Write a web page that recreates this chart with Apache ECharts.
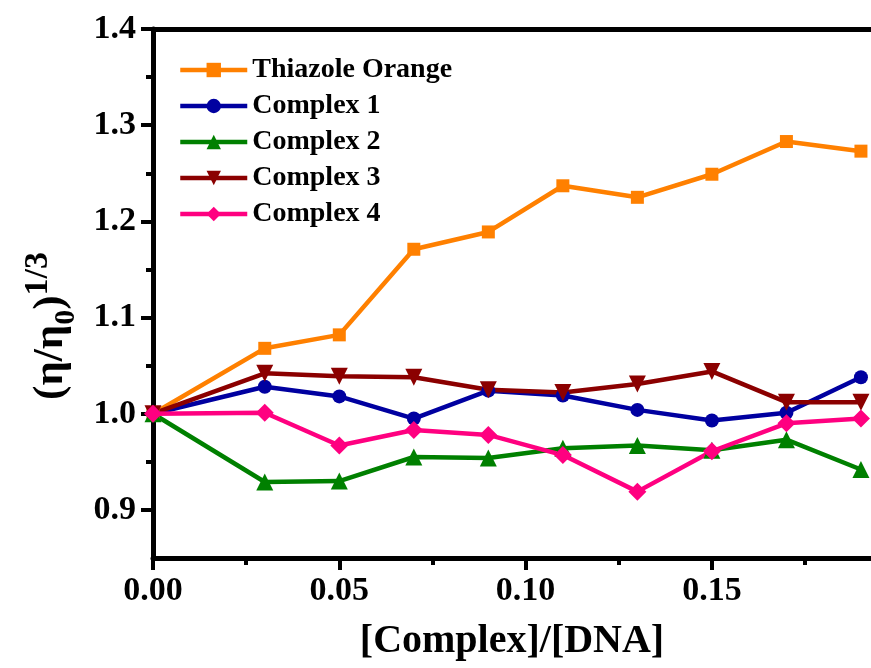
<!DOCTYPE html>
<html>
<head>
<meta charset="utf-8">
<script src="https://cdn.jsdelivr.net/npm/echarts@6/dist/echarts.min.js"></script>
<style>
  html, body { margin: 0; padding: 0; background: #fff; }
  #chart { width: 871px; height: 668px; }
</style>
</head>
<body>
<div id="chart"></div>
<script>
// ratio values
var ratios = [0, 0.03, 0.05, 0.07, 0.09, 0.11, 0.13, 0.15, 0.17, 0.19];

// (eta/eta0)^(1/3) per series
var thiazoleOrange = [1.0, 1.068, 1.082, 1.171, 1.189, 1.237, 1.225, 1.249, 1.283, 1.273];
var complex1 = [1.0, 1.028, 1.018, 0.995, 1.024, 1.019, 1.004, 0.993, 1.001, 1.038];
var complex2 = [1.0, 0.929, 0.930, 0.955, 0.954, 0.964, 0.967, 0.962, 0.973, 0.942];
var complex3 = [1.0, 1.042, 1.039, 1.038, 1.025, 1.022, 1.031, 1.044, 1.012, 1.012];
var complex4 = [1.0, 1.001, 0.967, 0.983, 0.978, 0.957, 0.919, 0.961, 0.990, 0.995];

var xMajor = [0, 0.05, 0.10, 0.15];
var xMinor = [0.025, 0.075, 0.125, 0.175];
var yMajor = [0.9, 1.0, 1.1, 1.2, 1.3, 1.4];
var yMinor = [0.95, 1.05, 1.15, 1.25, 1.35];

var FONT = '"Liberation Serif", "Times New Roman", serif';

function pairs(ys) {
  return ratios.map(function (x, i) { return [x, ys[i]]; });
}

function makeSeries(name, ys, color, symbol, size) {
  return {
    name: name,
    type: "line",
    data: pairs(ys),
    color: color,
    symbol: symbol,
    symbolSize: size,
    lineStyle: { width: 4.5, color: color },
    itemStyle: { color: color },
    emphasis: { disabled: true },
  };
}

var myChart = echarts.init(document.getElementById("chart"), null, { renderer: "canvas" });

var option = {
  animation: false,
  backgroundColor: "#fff",
  grid: { left: 153, right: 0, top: 29, bottom: 110, containLabel: false },
  legend: {
    orient: "vertical",
    left: 178,
    top: 56,
    padding: 0,
    itemWidth: 67,
    itemHeight: 18,
    itemGap: 8,
    lineStyle: { width: 4.5 },
    textStyle: { fontFamily: FONT, fontWeight: "bold", fontSize: 28, color: "#000", lineHeight: 28 },
    data: ["Thiazole Orange", "Complex 1", "Complex 2", "Complex 3", "Complex 4"],
  },
  xAxis: [
    {
      type: "value",
      min: 0,
      max: 0.1927,
      position: "bottom",
      name: "[Complex]/[DNA]",
      nameLocation: "middle",
      nameGap: 64,
      nameTextStyle: { fontFamily: FONT, fontWeight: "bold", fontSize: 40, color: "#000" },
      axisLine: { show: true, lineStyle: { color: "#000", width: 5 } },
      axisTick: { show: true, customValues: xMajor, length: 12, lineStyle: { color: "#000", width: 4 } },
      axisLabel: {
        customValues: xMajor,
        margin: 16,
        fontFamily: FONT,
        fontWeight: "bold",
        fontSize: 34,
        color: "#000",
        formatter: function (v) { return v.toFixed(2); },
      },
      splitLine: { show: false },
    },
    {
      type: "value",
      min: 0,
      max: 0.1927,
      position: "bottom",
      axisLine: { show: false },
      axisTick: { show: true, customValues: xMinor, length: 7, lineStyle: { color: "#000", width: 4 } },
      axisLabel: { show: false },
      splitLine: { show: false },
    },
    {
      type: "value",
      min: 0,
      max: 0.1927,
      position: "top",
      axisLine: { show: true, lineStyle: { color: "#000", width: 5 } },
      axisTick: { show: false },
      axisLabel: { show: false },
      splitLine: { show: false },
    },
  ],
  yAxis: [
    {
      type: "value",
      min: 0.85,
      max: 1.4,
      position: "left",
      axisLine: { show: true, lineStyle: { color: "#000", width: 5 } },
      axisTick: { show: true, customValues: yMajor, length: 12, lineStyle: { color: "#000", width: 4 } },
      axisLabel: {
        customValues: yMajor,
        margin: 17,
        fontFamily: FONT,
        fontWeight: "bold",
        fontSize: 34,
        color: "#000",
        formatter: function (v) { return v.toFixed(1); },
      },
      splitLine: { show: false },
    },
    {
      type: "value",
      min: 0.85,
      max: 1.4,
      position: "left",
      axisLine: { show: false },
      axisTick: { show: true, customValues: yMinor, length: 7, lineStyle: { color: "#000", width: 4 } },
      axisLabel: { show: false },
      splitLine: { show: false },
    },
  ],
  graphic: [
    {
      type: "text",
      x: 51,
      y: 326,
      rotation: Math.PI / 2,
      style: {
        text: "(η/η{sub|0}){sup|1/3}",
        align: "center",
        verticalAlign: "middle",
        fontFamily: FONT,
        fontWeight: "bold",
        fontSize: 43,
        lineHeight: 60,
        fill: "#000",
        rich: {
          sub: { fontFamily: FONT, fontWeight: "bold", fontSize: 30, lineHeight: 44, verticalAlign: "bottom", fill: "#000" },
          sup: { fontFamily: FONT, fontWeight: "bold", fontSize: 34, lineHeight: 12, verticalAlign: "top", fill: "#000" },
        },
      },
    },
  ],
  series: [
    makeSeries("Thiazole Orange", thiazoleOrange, "#FF8000", "rect", 13),
    makeSeries("Complex 1", complex1, "#0000A0", "circle", 14),
    makeSeries("Complex 2", complex2, "#008000", "triangle", 17),
    makeSeries("Complex 3", complex3, "#8B0000", "path://M0,0 L10,0 L5,9 Z", 17),
    makeSeries("Complex 4", complex4, "#FF0080", "diamond", 18),
  ],
};

myChart.setOption(option);
</script>
</body>
</html>
